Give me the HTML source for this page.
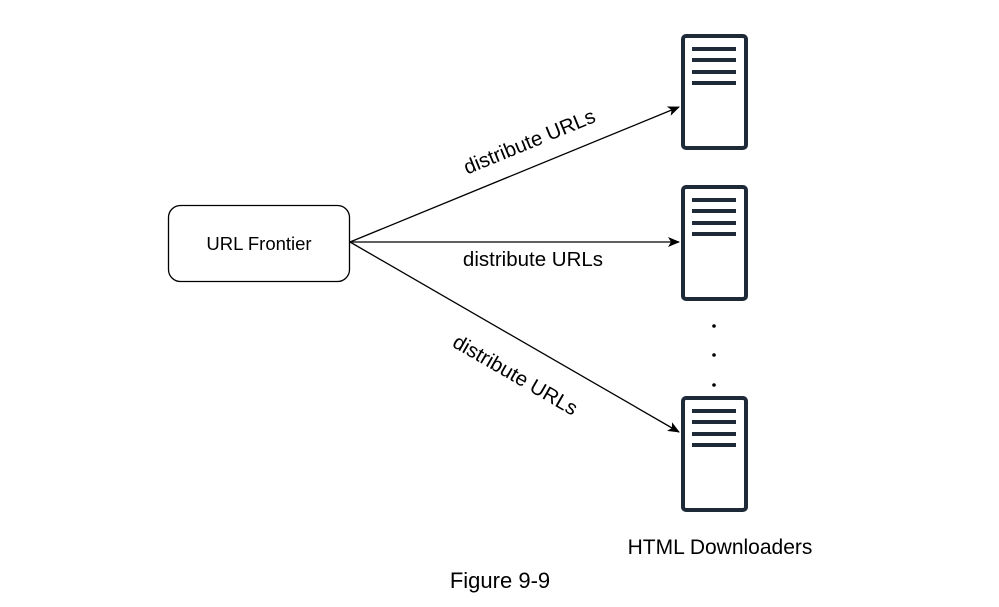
<!DOCTYPE html>
<html><head><style>
body{margin:0;background:#fff;}
svg{display:block;font-family:"Liberation Sans",Arial,sans-serif;}
</style></head><body>
<svg width="999" height="607" viewBox="0 0 999 607" xmlns="http://www.w3.org/2000/svg">
<defs>
<marker id="a" markerWidth="12" markerHeight="10" refX="11" refY="5" orient="auto" markerUnits="userSpaceOnUse">
<path d="M0,0 L12,5 L0,10 L3,5 Z" fill="#000"/>
</marker>
<g id="srv">
<rect x="683" y="0" width="63" height="112" rx="3" fill="#fff" stroke="#1e2a38" stroke-width="4"/>
<g stroke="#1e2a38" stroke-width="4">
<line x1="692" y1="13" x2="736" y2="13"/>
<line x1="692" y1="24" x2="736" y2="24"/>
<line x1="692" y1="36" x2="736" y2="36"/>
<line x1="692" y1="47" x2="736" y2="47"/>
</g>
</g>
</defs>
<use href="#srv" y="36"/>
<use href="#srv" y="187"/>
<use href="#srv" y="398"/>
<rect x="168.5" y="205.5" width="181" height="76" rx="12" fill="#fff" stroke="#000" stroke-width="1.3"/>
<text x="259" y="250" font-size="18.5" text-anchor="middle">URL Frontier</text>
<g stroke="#000" stroke-width="1.3" fill="none">
<line x1="350" y1="242" x2="679" y2="107" marker-end="url(#a)"/>
<line x1="350" y1="242" x2="679" y2="242" marker-end="url(#a)"/>
<line x1="350" y1="242" x2="679" y2="432" marker-end="url(#a)"/>
</g>
<text x="532" y="148" font-size="20.5" text-anchor="middle" transform="rotate(-22.3 532 148)">distribute URLs</text>
<text x="533" y="266" font-size="20.5" text-anchor="middle">distribute URLs</text>
<text x="512" y="381" font-size="20.5" text-anchor="middle" transform="rotate(30 512 381)">distribute URLs</text>
<circle cx="714" cy="326" r="1.8" fill="#000"/>
<circle cx="714" cy="355" r="1.8" fill="#000"/>
<circle cx="714" cy="385" r="1.8" fill="#000"/>
<text x="720" y="554" font-size="21" text-anchor="middle">HTML Downloaders</text>
<text x="500" y="588" font-size="22" text-anchor="middle">Figure 9-9</text>
</svg>
</body></html>
